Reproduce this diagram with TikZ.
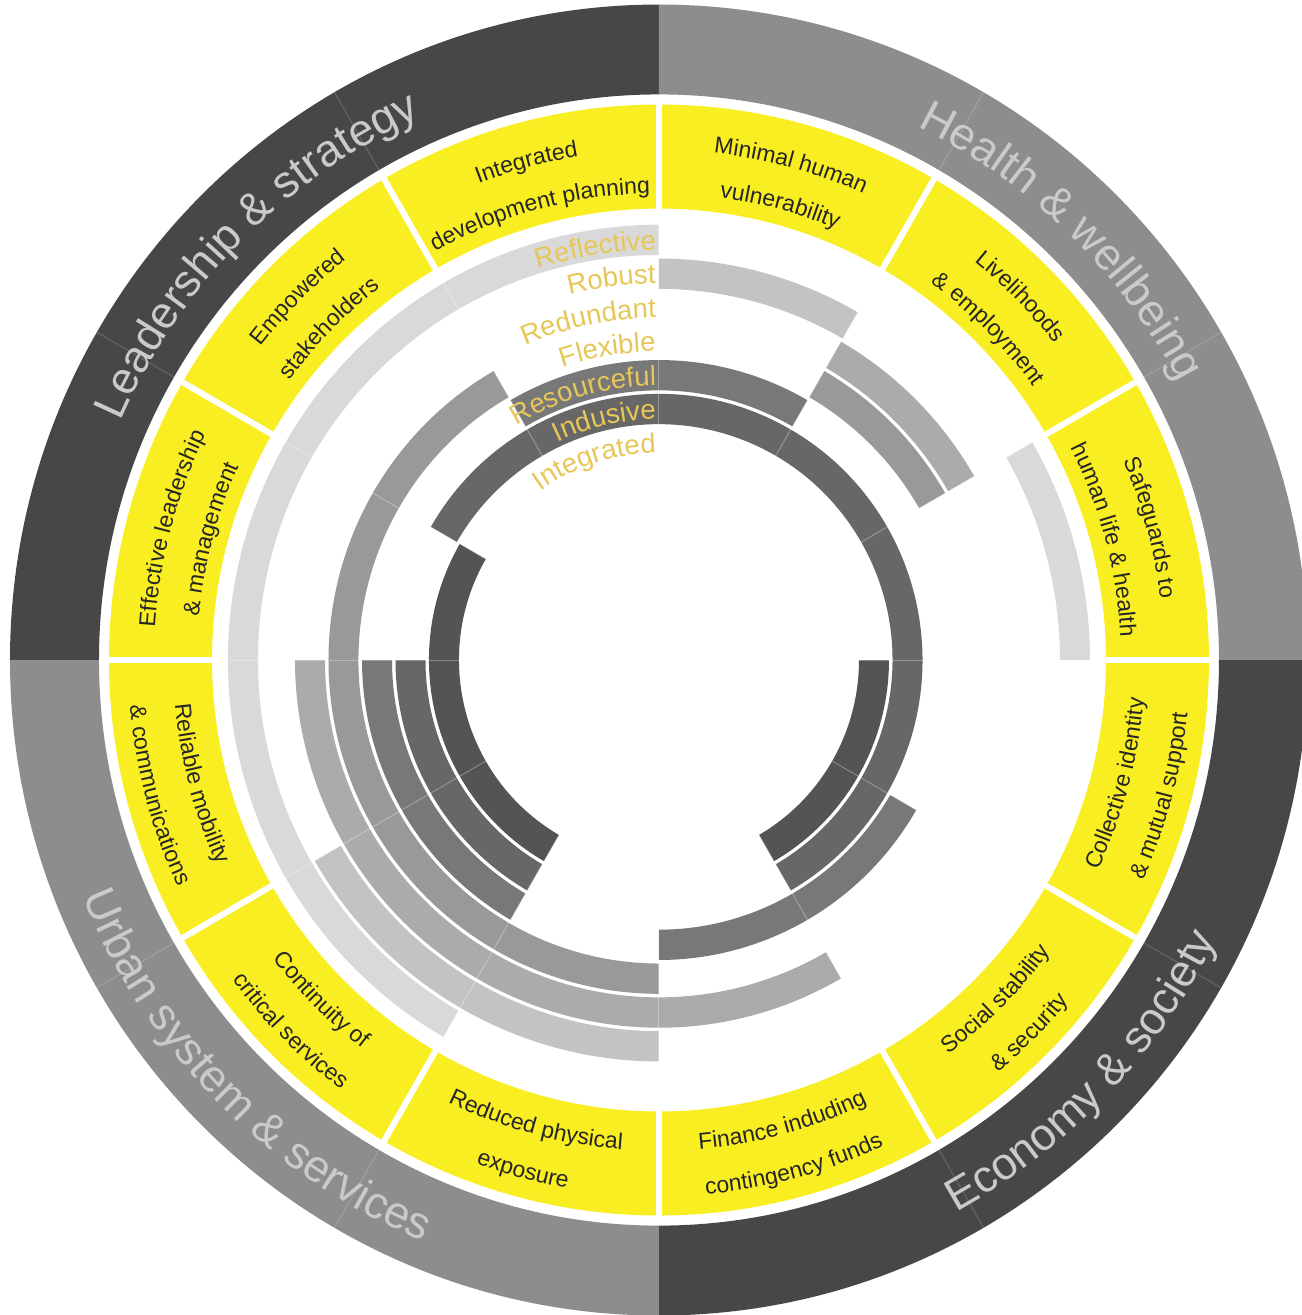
\documentclass[tikz,border=0pt]{standalone}
\usepackage{fontspec}
\setmainfont{Liberation Sans}
\usetikzlibrary{decorations.text}

\definecolor{darkq}{HTML}{474747}
\definecolor{medq}{HTML}{8D8D8D}
\definecolor{ringtext}{HTML}{CACACA}
\definecolor{boxyellow}{RGB}{249,238,34}
\definecolor{boxtext}{HTML}{262626}
\definecolor{qlabel}{RGB}{231,199,88}
\definecolor{cRefl}{HTML}{D9D9D9}
\definecolor{cRob}{HTML}{C3C3C3}
\definecolor{cRed}{HTML}{ABABAB}
\definecolor{cFlex}{HTML}{999999}
\definecolor{cRes}{HTML}{787878}
\definecolor{cInc}{HTML}{676767}
\definecolor{cInt}{HTML}{545454}

% annular sector: colour, start angle, end angle, inner r, outer r
\newcommand\annseg[5]{\fill[#1] (#2:#4) arc[start angle=#2, end angle=#3, radius=#4] -- (#3:#5) arc[start angle=#3, end angle=#2, radius=#5] -- cycle;}
% text along an arc, tops outward: mid angle, baseline radius, size, colour, text
\newcommand\arctop[5]{\path[decorate, decoration={text along path, text align=center, text={|\fontsize{#3}{#3}\selectfont\color{#4}|#5}}] ({#1+40}:#2) arc[start angle={#1+40}, end angle={#1-40}, radius=#2];}
% text along an arc, tops inward
\newcommand\arcbot[5]{\path[decorate, decoration={text along path, text align=center, text={|\fontsize{#3}{#3}\selectfont\color{#4}|#5}}] ({#1-40}:#2) arc[start angle={#1-40}, end angle={#1+40}, radius=#2];}
% quality label, right aligned at the top: end angle, radius, text
\newcommand\qual[3]{\path[decorate, decoration={text along path, text align=right, text={|\fontsize{27.5}{27.5}\selectfont\color{qlabel}|#3}}] (150:#2) arc[start angle=150, end angle=#1, radius=#2];}

\begin{document}
\begin{tikzpicture}[x=1pt, y=1.01pt]
\useasboundingbox (-659,-648.5) rectangle (643,653.5);
\fill[white] (-659,-648.5) rectangle (643,653.5);

% outer quadrant ring
\annseg{darkq}{90}{180}{560}{649}
\annseg{medq}{0}{90}{560}{649}
\annseg{darkq}{-90}{0}{560}{649}
\annseg{medq}{180}{270}{560}{649}
\foreach \a in {30,60,120,150,210,240,300,330}
  \draw[white, opacity=0.13, line width=1.5pt] (\a:560) -- (\a:649);

% yellow goal ring
\foreach \i in {0,...,11}{
  \pgfmathsetmacro\aa{30*\i}
  \pgfmathsetmacro\ab{30*\i+30}
  \annseg{boxyellow}{\aa}{\ab}{447}{550}
}
\foreach \a in {0,30,...,330}
  \draw[white, line width=6pt] (\a:442) -- (\a:555);

% quality rings
\annseg{cRefl}{90}{240}{401}{431}
\annseg{cRefl}{0}{30}{401}{431}
\annseg{cRob}{60}{90}{367.5}{397.5}
\annseg{cRob}{-150}{-90}{367.5}{397.5}
\annseg{cRed}{-180}{-60}{334}{364}
\annseg{cRed}{30}{60}{334}{364}
\annseg{cFlex}{120}{270}{300.5}{330.5}
\annseg{cFlex}{30}{60}{300.5}{330.5}
\annseg{cRes}{60}{120}{267}{297}
\annseg{cRes}{180}{240}{267}{297}
\annseg{cRes}{-90}{-30}{267}{297}
\annseg{cInc}{-60}{150}{233.5}{263.5}
\annseg{cInc}{180}{240}{233.5}{263.5}
\annseg{cInt}{150}{240}{200}{230}
\annseg{cInt}{-60}{0}{200}{230}
\foreach \a in {0,30,...,330}
  \draw[white, opacity=0.3, line width=1pt] (\a:198) -- (\a:433);

% quality labels
\qual{90.4}{406}{Reflective}
\qual{90.5}{372.5}{Robust}
\qual{90.5}{339}{Redundant}
\qual{90.6}{305.5}{Flexible}
\qual{90.6}{272}{Resourceful}
\qual{90.7}{238.5}{Indusive}
\qual{90.8}{205}{Integrated}

% outer category labels
\arctop{135}{588}{45}{ringtext}{Leadership {\&} strategy}
\arctop{46}{588}{45}{ringtext}{Health {\&} wellbeing}
\arcbot{-44}{622}{45}{ringtext}{Economy {\&} society}
\arcbot{-135}{622}{45}{ringtext}{Urban system {\&} services}

% goal labels, upper half
\arctop{105}{505}{23}{boxtext}{Integrated}
\arctop{105}{462}{23}{boxtext}{development planning}
\arctop{135}{505}{23}{boxtext}{Empowered}
\arctop{135}{462}{23}{boxtext}{stakeholders}
\arctop{165}{505}{23}{boxtext}{Effective leadership}
\arctop{165}{462}{23}{boxtext}{{\&} management}
\arctop{75}{505}{23}{boxtext}{Minimal human}
\arctop{75}{462}{23}{boxtext}{vulnerability}
\arctop{45}{505}{23}{boxtext}{Livelihoods}
\arctop{45}{462}{23}{boxtext}{{\&} employment}
\arctop{15}{505}{23}{boxtext}{Safeguards to}
\arctop{15}{462}{23}{boxtext}{human life {\&} health}
% goal labels, lower half
\arcbot{-15}{486}{23}{boxtext}{Collective identity}
\arcbot{-15}{531}{23}{boxtext}{{\&} mutual support}
\arcbot{-45}{486}{23}{boxtext}{Social stability}
\arcbot{-45}{531}{23}{boxtext}{{\&} security}
\arcbot{-75}{486}{23}{boxtext}{Finance induding}
\arcbot{-75}{531}{23}{boxtext}{contingency funds}
\arcbot{-105}{486}{23}{boxtext}{Reduced physical}
\arcbot{-105}{531}{23}{boxtext}{exposure}
\arcbot{-135}{486}{23}{boxtext}{Continuity of}
\arcbot{-135}{531}{23}{boxtext}{critical services}
\arcbot{-165}{486}{23}{boxtext}{Reliable mobility}
\arcbot{-165}{531}{23}{boxtext}{{\&} communications}
\end{tikzpicture}
\end{document}
